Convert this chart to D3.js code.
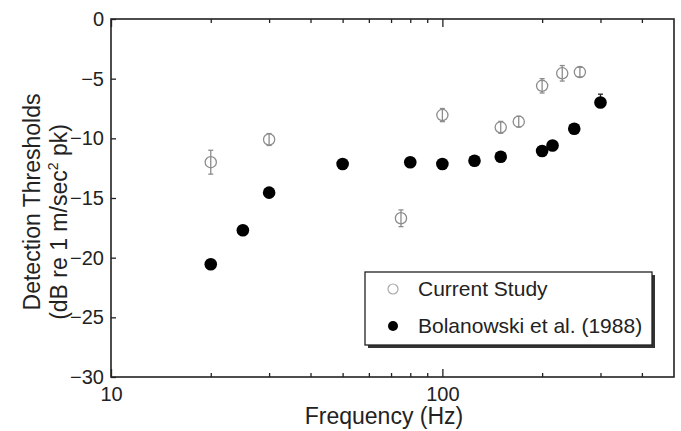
<!DOCTYPE html>
<html>
<head>
<meta charset="utf-8">
<script src="https://cdn.jsdelivr.net/npm/d3@7"></script>
<style>
    body { margin: 0; background: #fff; }
    svg { font-family: "Liberation Sans", Arial, sans-serif; }
</style>
</head>
<body>
<div id="chart"></div>
<script>
// Current study (open circles, with error bars)
var currentFreq = [20, 30, 75, 100, 150, 170, 200, 230, 260];
var currentThr  = [-12.0, -10.1, -16.7, -8.05, -9.08, -8.6, -5.6, -4.55, -4.45];
var currentErr  = [1.0, 0.5, 0.7, 0.55, 0.5, 0.45, 0.6, 0.65, 0.4];

// Bolanowski et al. (1988) (filled circles), only the upper bar shows at 300 Hz
var bolFreq   = [20, 25, 30, 50, 80, 100, 125, 150, 200, 215, 250, 300];
var bolThr    = [-20.55, -17.7, -14.55, -12.15, -12.0, -12.15, -11.88, -11.54, -11.06, -10.6, -9.2, -7.0];
var bolErrUp  = [0, 0, 0, 0, 0, 0, 0, 0, 0, 0, 0, 0.7];

// tick labels
var xMajorTicks = [10, 100];
var xMinorTicks = [20, 30, 40, 50, 60, 70, 80, 90, 200, 300, 400];
var yTicks = [0, -5, -10, -15, -20, -25, -30];

var legendLabels = ["Current Study", "Bolanowski et al. (1988)"];

function chart() {
    var width = 681;
    var height = 431;
    var left = 111, right = 674, top = 19, bottom = 377;
    var grey = "#8c8c8c";

    var svg = d3.select("#chart")
                .append("svg")
                .attr("width", width)
                .attr("height", height);

    var xScale = d3.scaleLog()
                    .domain([10, 500])
                    .range([left, right]);

    var yScale = d3.scaleLinear()
                    .domain([-30, 0])
                    .range([bottom, top]);

    var current = currentFreq.map(function(f, i) {
        return {f: f, v: currentThr[i], lo: currentErr[i], hi: currentErr[i]};
    });
    var bol = bolFreq.map(function(f, i) {
        return {f: f, v: bolThr[i], lo: 0, hi: bolErrUp[i]};
    });

    // frame
    svg.append("rect")
        .attr("x", left)
        .attr("y", top)
        .attr("width", right - left)
        .attr("height", bottom - top)
        .attr("fill", "none")
        .attr("stroke", "#222")
        .attr("stroke-width", 1.6);

    function styleAxis(g) {
        g.select(".domain").remove();
        g.selectAll("line").attr("stroke", "#222").attr("stroke-width", 1.3);
        g.selectAll("text")
            .attr("font-family", "Liberation Sans, Arial, sans-serif")
            .attr("font-size", 20)
            .attr("fill", "#222");
    }

    // X axis, major ticks with labels
    svg.append("g")
        .attr("transform", "translate(0," + bottom + ")")
        .call(d3.axisBottom(xScale).tickValues(xMajorTicks)
            .tickFormat(d3.format("d")).tickSize(-8).tickPadding(10))
        .call(styleAxis);
    // X axis, minor ticks
    svg.append("g")
        .attr("transform", "translate(0," + bottom + ")")
        .call(d3.axisBottom(xScale).tickValues(xMinorTicks)
            .tickFormat("").tickSize(-4))
        .call(styleAxis);
    // top axis
    svg.append("g")
        .attr("transform", "translate(0," + top + ")")
        .call(d3.axisTop(xScale).tickValues(xMajorTicks).tickFormat("").tickSize(-8))
        .call(styleAxis);
    svg.append("g")
        .attr("transform", "translate(0," + top + ")")
        .call(d3.axisTop(xScale).tickValues(xMinorTicks).tickFormat("").tickSize(-4))
        .call(styleAxis);

    // Y axis
    svg.append("g")
        .attr("transform", "translate(" + left + ",0)")
        .call(d3.axisLeft(yScale).tickValues(yTicks)
            .tickFormat(d3.format("d")).tickSize(-5).tickPadding(7))
        .call(styleAxis);

    // error bars (with caps where the bar is non-zero)
    function errorBars(data, color) {
        var g = svg.append("g")
                    .attr("stroke", color)
                    .attr("stroke-width", 1.3);
        var withErr = data.filter(function(d) { return d.hi > 0 || d.lo > 0; });
        g.selectAll(".bar")
            .data(withErr)
            .enter()
            .append("line")
            .attr("x1", function(d) { return xScale(d.f); })
            .attr("x2", function(d) { return xScale(d.f); })
            .attr("y1", function(d) { return yScale(d.v - d.lo); })
            .attr("y2", function(d) { return yScale(d.v + d.hi); });
        var caps = [];
        withErr.forEach(function(d) {
            if (d.hi > 0) caps.push({f: d.f, y: d.v + d.hi});
            if (d.lo > 0) caps.push({f: d.f, y: d.v - d.lo});
        });
        g.selectAll(".cap")
            .data(caps)
            .enter()
            .append("line")
            .attr("x1", function(d) { return xScale(d.f) - 2.5; })
            .attr("x2", function(d) { return xScale(d.f) + 2.5; })
            .attr("y1", function(d) { return yScale(d.y); })
            .attr("y2", function(d) { return yScale(d.y); });
    }

    errorBars(bol, "#222");
    svg.append("g")
        .selectAll("circle")
        .data(bol)
        .enter()
        .append("circle")
        .attr("cx", function(d) { return xScale(d.f); })
        .attr("cy", function(d) { return yScale(d.v); })
        .attr("r", 6.3)
        .attr("fill", "#000");

    svg.append("g")
        .selectAll("circle")
        .data(current)
        .enter()
        .append("circle")
        .attr("cx", function(d) { return xScale(d.f); })
        .attr("cy", function(d) { return yScale(d.v); })
        .attr("r", 5.6)
        .attr("fill", "none")
        .attr("stroke", grey)
        .attr("stroke-width", 1.3);
    errorBars(current, grey);

    // legend
    var lx = 365, ly = 272, lw = 287, lh = 73;
    svg.append("rect")
        .attr("x", lx + 3).attr("y", ly + 3)
        .attr("width", lw).attr("height", lh)
        .attr("fill", "#333");
    svg.append("rect")
        .attr("x", lx).attr("y", ly)
        .attr("width", lw).attr("height", lh)
        .attr("fill", "#fff")
        .attr("stroke", "#222")
        .attr("stroke-width", 1.3);

    var rows = svg.append("g")
                .selectAll("g")
                .data(legendLabels)
                .enter()
                .append("g")
                .attr("transform", function(d, i) {
                    return "translate(" + (lx + 28) + "," + (ly + 17 + i * 37) + ")";
                });
    rows.append("circle")
        .attr("r", 5)
        .attr("fill", function(d, i) { return i === 0 ? "none" : "#000"; })
        .attr("stroke", function(d, i) { return i === 0 ? "#aaa" : "none"; })
        .attr("stroke-width", 1.2);
    rows.append("text")
        .attr("x", 25)
        .attr("dy", "0.35em")
        .attr("font-size", 21)
        .attr("fill", "#222")
        .text(function(d) { return d; });

    // X Axis Label
    svg.append("text")
        .attr("text-anchor", "middle")
        .attr("x", 384)
        .attr("y", 424)
        .attr("font-size", 23)
        .attr("fill", "#222")
        .text("Frequency (Hz)");

    // Y Axis Label, two lines
    svg.append("text")
        .attr("text-anchor", "middle")
        .attr("transform", "translate(40,202) rotate(-90)")
        .attr("font-size", 23)
        .attr("fill", "#222")
        .text("Detection Thresholds");

    var y2 = svg.append("text")
        .attr("text-anchor", "middle")
        .attr("transform", "translate(67,222) rotate(-90)")
        .attr("font-size", 23)
        .attr("fill", "#222");
    y2.append("tspan").text("(dB re 1 m/sec");
    y2.append("tspan").attr("font-size", 14).attr("dy", -9).text("2");
    y2.append("tspan").attr("dy", 9).text(" pk)");
}

window.onload = chart;
</script>
</body>
</html>
